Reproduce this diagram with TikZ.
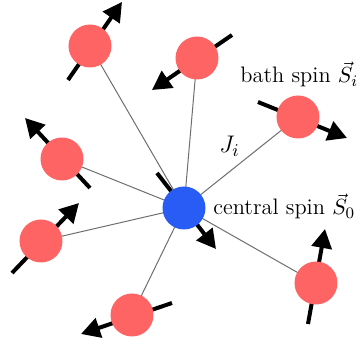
\documentclass[tikz,border=0pt]{standalone}
\usetikzlibrary{arrows.meta}
\definecolor{bathred}{RGB}{255,100,100}
\definecolor{centblue}{RGB}{40,92,245}
\definecolor{linegray}{RGB}{110,110,110}
\begin{document}
\begin{tikzpicture}[x=0.5pt,y=-0.5pt,
  bath/.style={circle,fill=bathred,minimum size=21.5pt,inner sep=0pt},
  cent/.style={circle,fill=centblue,minimum size=21.5pt,inner sep=0pt},
  coupling/.style={draw=linegray,line width=0.5pt},
  spinarrow/.style={line width=2pt,-{Triangle[length=9.5pt,width=10pt]}},
  lbl/.style={inner sep=0pt,anchor=base west,font=\fontsize{11.2}{13}\selectfont}]
\useasboundingbox (0,0) rectangle (360,347);
% positions
\coordinate (p0) at (184,208);
\coordinate (p1) at (90,46);
\coordinate (p2) at (197,58);
\coordinate (p3) at (298,117);
\coordinate (p4) at (62,159);
\coordinate (p5) at (41,241);
\coordinate (p6) at (132,315);
\coordinate (p7) at (316,283);
% couplings
\foreach \i in {1,...,7} \draw[coupling] (p0) -- (p\i);
% spin arrows
\coordinate (t0) at (157,173); \coordinate (h0) at (216,249);
\coordinate (t1) at (68,80);   \coordinate (h1) at (122,2);
\coordinate (t2) at (232,35);  \coordinate (h2) at (152,90);
\coordinate (t3) at (258,102); \coordinate (h3) at (347,138);
\coordinate (t4) at (90,188);  \coordinate (h4) at (25,118);
\coordinate (t5) at (12,273);  \coordinate (h5) at (79,203);
\coordinate (t6) at (172,303); \coordinate (h6) at (81,334);
\coordinate (t7) at (308,324); \coordinate (h7) at (325,229);
\foreach \i in {0,...,7} \draw[spinarrow] (t\i) -- (h\i);
% spins
\node[cent] (c) at (p0) {};
\node[bath] (b1) at (p1) {};
\node[bath] (b2) at (p2) {};
\node[bath] (b3) at (p3) {};
\node[bath] (b4) at (p4) {};
\node[bath] (b5) at (p5) {};
\node[bath] (b6) at (p6) {};
\node[bath] (b7) at (p7) {};
% labels
\node[lbl] (lb) at (240,83) {bath spin $\vec{S}_i$};
\node[lbl] (lc) at (213,215) {central spin $\vec{S}_0$};
\node[lbl,font=\fontsize{12.5}{14}\selectfont] (lj) at (219,153) {$J_i$};
\end{tikzpicture}
\end{document}
